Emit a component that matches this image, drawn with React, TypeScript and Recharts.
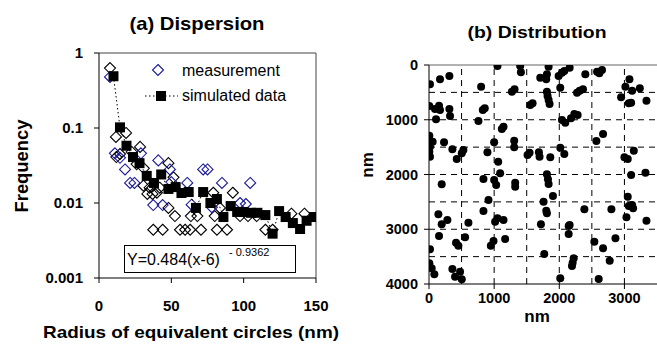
import React from "react";
import {
  ScatterChart,
  Scatter,
  XAxis,
  YAxis,
  ReferenceLine,
} from "recharts";

const FONT = "'Liberation Sans', Arial, sans-serif";

// (a) simulated data: radius (nm) / frequency
const simX = [10, 14.5, 19, 23.5, 28, 33, 38, 43, 48, 53, 57, 62, 67, 72, 77, 81.5, 86, 91, 95.5, 100, 105, 109.5, 115, 120, 124.5, 129, 134, 139, 143.5, 148.5];
const simY = [0.49, 0.102, 0.058, 0.041, 0.034, 0.023, 0.0185, 0.024, 0.0154, 0.0163, 0.0136, 0.014, 0.0086, 0.014, 0.01, 0.0113, 0.0065, 0.0091, 0.0076, 0.0076, 0.0074, 0.0074, 0.0069, 0.0039, 0.0078, 0.0065, 0.0054, 0.0045, 0.0058, 0.0065];

// (a) measurement (blue diamonds)
const measBlue = [
  [7.6, 0.48], [11, 0.046], [14.5, 0.04], [18, 0.028], [21.5, 0.0185], [24.5, 0.0185],
  [29, 0.046], [41, 0.037], [37.5, 0.0094], [44, 0.0094], [49, 0.028], [50, 0.019],
  [61, 0.0185], [64, 0.0095], [72, 0.028], [75, 0.028], [78, 0.0088], [85, 0.0185],
  [97.5, 0.01], [101.5, 0.0097], [104.5, 0.0185],
];

// (a) unlabelled black diamonds
const measBlack = [
  [7.6, 0.63], [11.7, 0.076], [18.7, 0.086], [12, 0.041], [14.5, 0.045], [22.6, 0.048],
  [28.4, 0.056], [26, 0.033], [31, 0.029], [30.7, 0.017], [33.4, 0.0132], [37, 0.0132],
  [40, 0.0137], [35, 0.016], [42, 0.016], [48, 0.034], [51.5, 0.022], [48, 0.0086],
  [52.5, 0.0067], [63.5, 0.0067], [68, 0.0067], [79, 0.0137], [92.5, 0.0137], [83.6, 0.0086],
  [80, 0.0067], [97.5, 0.0067], [103, 0.0067], [109, 0.0067], [133, 0.0072], [142, 0.0072],
  [37.5, 0.0044], [44, 0.0044], [56, 0.0044], [59.5, 0.0044], [63, 0.0044], [70.5, 0.0044],
  [81.5, 0.0044], [88.5, 0.0044], [115, 0.0044], [120, 0.0044],
];

// (b) particle positions, nm
const particles = [
  [15, 353], [169, 261], [313, 201], [1051, 18], [800, 396], [1400, 18], [1411, 134], [1272, 487],
  [1313, 444], [1836, 31], [1708, 232], [1800, 261], [1810, 170], [1990, 201], [2041, 140], [2077, 110],
  [2015, 414], [1810, 487], [1820, 566], [1836, 640], [1851, 712], [5, 749], [92, 804], [154, 743],
  [169, 822], [108, 992], [313, 804], [323, 932], [759, 1023], [826, 822], [856, 791], [1554, 731],
  [1590, 700], [1118, 1169], [1144, 1127], [2041, 1005], [2092, 1053], [5, 1291], [56, 1400], [15, 1492],
  [5, 1583], [15, 1674], [231, 1412], [359, 1540], [426, 1717], [503, 1613], [528, 1553], [1000, 1412],
  [897, 1595], [1062, 1766], [1308, 1382], [1308, 1503], [1513, 1644], [1544, 1601], [1687, 1595], [1697, 1675],
  [1862, 1686], [2015, 1510], [2077, 1626], [195, 2180], [836, 2082], [1000, 2101], [1031, 2192], [1092, 1979],
  [1323, 2149], [1323, 2222], [1810, 1997], [1826, 2088], [1836, 2174], [1903, 2393], [913, 2466], [836, 2667],
  [1759, 2496], [1800, 2661], [1810, 2709], [144, 2727], [282, 2831], [195, 2910], [605, 2880], [1015, 2862],
  [1051, 2800], [1144, 2831], [1718, 2910], [2144, 2941], [154, 3123], [415, 3245], [451, 3300], [554, 3148],
  [949, 3300], [990, 3215], [1169, 3178], [1769, 3452], [15, 3367], [5, 3622], [41, 3713], [82, 3823],
  [359, 3726], [400, 3866], [477, 3775], [503, 3914], [2015, 3896], [2159, 49], [2400, 170], [2580, 122],
  [2615, 152], [2656, 91], [2272, 506], [2313, 469], [2364, 444], [3077, 261], [3015, 396], [3118, 469],
  [3236, 426], [2949, 590], [3067, 700], [3103, 688], [3338, 652], [2180, 973], [2231, 895], [2282, 913],
  [2569, 1388], [2672, 1260], [3000, 1686], [3051, 1717], [3144, 1565], [3103, 2009], [3323, 1967], [2385, 2636],
  [2800, 2636], [3051, 2405], [3067, 2575], [3118, 2557], [3133, 2618], [3031, 2782], [3338, 2843], [2159, 2922],
  [2144, 3087], [2538, 3227], [2672, 3349], [2862, 3166], [2774, 3574], [2221, 3531], [2205, 3611], [2195, 3671],
  [2605, 3909],
];

const freqTicks = [0.001, 0.01, 0.1, 1];
const radiusTicks = [0, 50, 100, 150];
const posXTicks = [0, 1000, 2000, 3000];
const posYTicks = [0, 1000, 2000, 3000, 4000];
const gridH = [500, 1000, 1500, 2000, 2500, 3000, 3500];
const gridV = [500, 1000, 1500, 2000, 2500, 3000];

const simData = simX.map((x, i) => ({ x, y: simY[i] }));
const blueData = measBlue.map(([x, y]) => ({ x, y }));
const blackData = measBlack.map(([x, y]) => ({ x, y }));
const partData = particles.map(([x, y]) => ({ x, y }));

const tickStyle = { fill: "#000", fontSize: 15, fontWeight: "bold", fontFamily: FONT };
const axisStroke = { stroke: "#000" };

const diamond = (color: string) => (p: any) => (
  <path
    d={`M${p.cx},${p.cy - 5.5}L${p.cx + 5.5},${p.cy}L${p.cx},${p.cy + 5.5}L${p.cx - 5.5},${p.cy}Z`}
    fill="#fff"
    fillOpacity={0}
    stroke={color}
    strokeWidth={1.1}
  />
);
const square = (p: any) => <rect x={p.cx - 5} y={p.cy - 5} width={10} height={10} fill="#000" />;
const dot = (p: any) => <circle cx={p.cx} cy={p.cy} r={4} fill="#000" />;

function Overlay() {
  return (
    <svg width={657} height={345} style={{ position: "absolute", left: 0, top: 0, pointerEvents: "none" }}>
      <g fontFamily={FONT} fill="#000">
        <text x={197} y={29.5} textAnchor="middle" fontSize={19} fontWeight="bold" textLength={135} lengthAdjust="spacingAndGlyphs">(a) Dispersion</text>
        <text x={537} y={37.5} textAnchor="middle" fontSize={17} fontWeight="bold" textLength={139} lengthAdjust="spacingAndGlyphs">(b) Distribution</text>
        <text x={28} y={166} textAnchor="middle" fontSize={18} fontWeight="bold" textLength={93} lengthAdjust="spacingAndGlyphs" transform="rotate(-90 28 166)">Frequency</text>
        <text x={191} y={338} textAnchor="middle" fontSize={17} fontWeight="bold" textLength={296} lengthAdjust="spacingAndGlyphs">Radius of equivalent circles (nm)</text>
        <text x={537} y={322} textAnchor="middle" fontSize={17} fontWeight="bold">nm</text>
        <text x={373} y={165} textAnchor="middle" fontSize={17} fontWeight="bold" transform="rotate(-90 373 165)">nm</text>

        {/* legend */}
        <path d="M158,64.5L163.5,70L158,75.5L152.5,70Z" fill="none" stroke="#1a1a9c" strokeWidth={1.1} />
        <text x={182} y={76} fontSize={16}>measurement</text>
        <line x1={145} y1={96} x2={178} y2={96} stroke="#000" strokeDasharray="1.5 2.5" />
        <rect x={156} y={91} width={10} height={10} fill="#000" />
        <text x={182} y={101} fontSize={16}>simulated data</text>

        {/* fitted equation */}
        <rect x={124.5} y={245.5} width={171} height={27} fill="#fff" stroke="#000" />
        <text x={127} y={265} fontSize={16}>Y=0.484(x-6)</text>
        <text x={229} y={256} fontSize={11}>- 0.9362</text>
      </g>
    </svg>
  );
}

export default function App() {
  return (
    <div style={{ position: "absolute", left: 0, top: 0, width: 657, height: 345, background: "#fff" }}>
      <div style={{ display: "flex" }}>
        <ScatterChart width={330} height={345} margin={{ top: 53, right: 14, bottom: 0, left: 0 }}>
          <XAxis
            type="number"
            dataKey="x"
            domain={[0, 150]}
            ticks={radiusTicks}
            height={67}
            tickSize={5}
            tickMargin={17}
            tick={tickStyle}
            axisLine={axisStroke}
            tickLine={axisStroke}
            allowDataOverflow
          />
          <YAxis
            type="number"
            dataKey="y"
            scale="log"
            domain={[0.001, 1]}
            ticks={freqTicks}
            width={99}
            tickSize={5}
            tickMargin={11}
            tick={tickStyle}
            axisLine={axisStroke}
            tickLine={axisStroke}
            tickFormatter={(v: number) => String(v)}
            allowDataOverflow
          />
          <ReferenceLine y={1} stroke="#444" />
          <ReferenceLine x={150} stroke="#444" />
          <Scatter data={blackData} shape={diamond("#000")} isAnimationActive={false} />
          <Scatter data={blueData} shape={diamond("#1a1a9c")} isAnimationActive={false} />
          <Scatter
            data={simData}
            shape={square}
            line={{ stroke: "#000", strokeWidth: 1, strokeDasharray: "1.5 2.5" }}
            isAnimationActive={false}
          />
        </ScatterChart>
        <ScatterChart width={327} height={345} margin={{ top: 65, right: 0, bottom: 0, left: 0 }}>
          <XAxis
            type="number"
            dataKey="x"
            domain={[0, 3500]}
            ticks={posXTicks}
            height={61}
            tickSize={5}
            tickMargin={4}
            tick={{ ...tickStyle, fontSize: 14.5 }}
            axisLine={axisStroke}
            tickLine={axisStroke}
            allowDataOverflow
          />
          <YAxis
            type="number"
            dataKey="y"
            reversed
            domain={[0, 4000]}
            ticks={posYTicks}
            width={99}
            tickSize={5}
            tickMargin={6}
            tick={{ ...tickStyle, fontSize: 14.5 }}
            axisLine={axisStroke}
            tickLine={axisStroke}
            allowDataOverflow
          />
          {gridH.map((v) => (
            <ReferenceLine key={`h${v}`} y={v} stroke="#000" strokeDasharray="6 5" />
          ))}
          {gridV.map((v) => (
            <ReferenceLine key={`v${v}`} x={v} stroke="#000" strokeDasharray="6 5" />
          ))}
          <ReferenceLine y={0} stroke="#999" strokeWidth={1.5} />
          <Scatter data={partData} shape={dot} isAnimationActive={false} />
        </ScatterChart>
      </div>
      <Overlay />
    </div>
  );
}
